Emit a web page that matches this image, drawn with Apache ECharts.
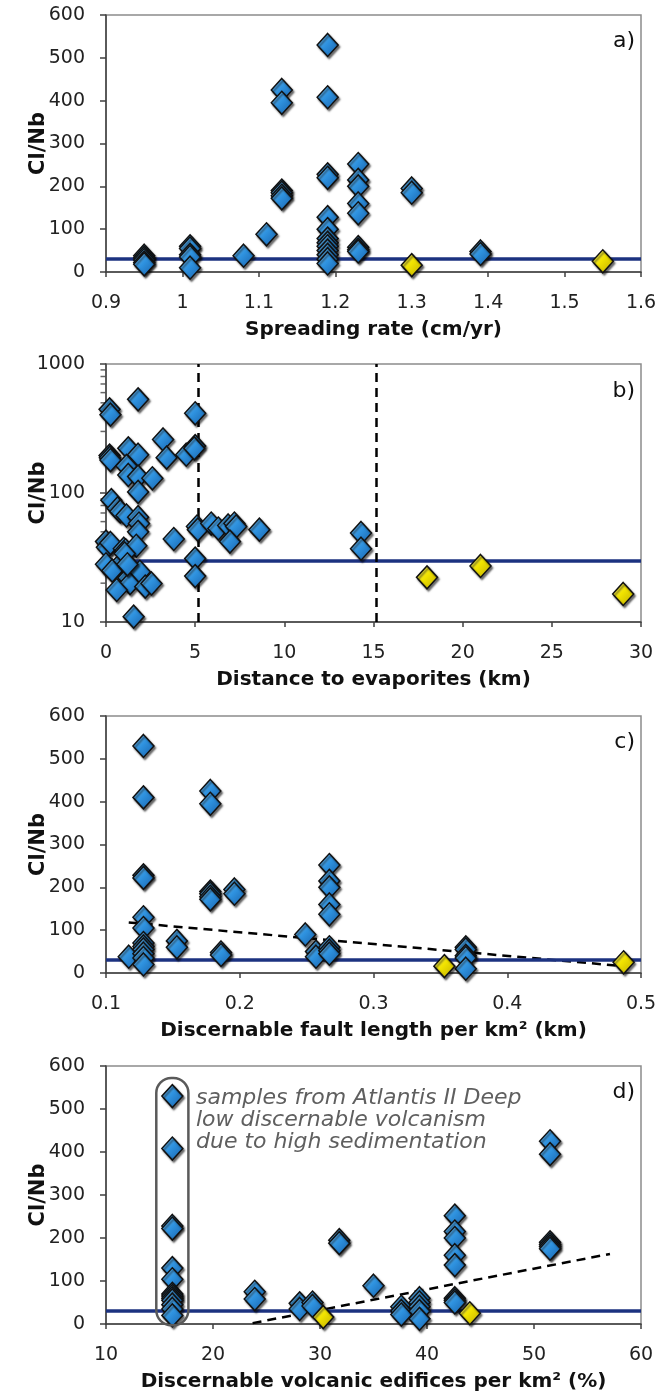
<!DOCTYPE html>
<html><head><meta charset="utf-8">
<script src="https://cdn.jsdelivr.net/npm/echarts@6/dist/echarts.min.js"></script>
<style>html,body{margin:0;padding:0;background:#fff}#c{width:671px;height:1398px}</style>
</head><body><div id="c"></div>
<script>
// ---------- DATA ----------
// Panel a: spreading rate (cm/yr) vs Cl/Nb
const aBlueX = [0.95,0.95,0.95,0.95,0.95, 1.01,1.01,1.01,1.01,1.01, 1.08, 1.11,
  1.13,1.13,1.13,1.13,1.13,1.13,
  1.19,1.19,1.19,1.19,1.19,1.19,1.19,1.19,1.19,1.19,1.19,1.19,1.19,
  1.23,1.23,1.23,1.23,1.23,1.23,1.23,1.23, 1.30,1.30, 1.39,1.39];
const aBlueY = [38,33,28,22,18, 60,55,40,35,10, 38, 88,
  425,395,190,185,178,172,
  530,408,228,220,128,100,78,68,60,50,40,30,20,
  252,215,200,160,137,58,52,48, 195,185, 48,42];
const aYellowX = [1.30, 1.55];
const aYellowY = [16, 25];

// Panel b: distance to evaporites (km) vs Cl/Nb (log)
const bBlueX = [1.8, 0.2,0.25, 5.0, 3.2, 1.25, 0.2,0.22,0.25, 1.8, 3.4, 4.5, 5.0,4.95,
  1.15, 1.25, 1.8, 2.6, 1.8, 0.3, 0.65,0.8, 1.15, 1.8,1.85, 1.8, 3.8, 5.1,5.15, 5.9, 6.3,
  6.85,7.2,7.3, 6.95, 8.6, 14.3,14.3, 0.0,0.05, 0.25, 1.0,1.1, 1.7, 5.0, 0.0, 0.35, 1.0,
  1.25,1.35, 1.9, 0.6, 2.2,2.55, 5.0, 1.55, 1.05, 1.2];
const bBlueY = [532, 445,405, 415, 260, 222, 195,188,180, 198, 188, 198, 231,222,
  162, 138, 134, 130, 102, 88, 76,72, 67, 65,58, 50, 44, 55,52, 58, 53,
  56,58,55, 42, 52, 49,37, 42,38, 41, 37,36, 39, 31, 28, 25, 30,
  22,20, 24.5, 17.7, 18.8,19.9, 22.7, 11, 34, 28];
const bYellowX = [18, 21, 29];
const bYellowY = [22.2, 27.2, 16.5];
const bEvaporiteLimits = [5.15, 15.15];
const bMinorTicks = [20,30,40,50,60,70,80,90,200,300,400,500,600,700,800,900];

// Panel c: discernable fault length per km2 vs Cl/Nb
const cBlueX = [0.117,
  0.128,0.128,0.128,0.128,0.128,0.128,0.128,0.128,0.128,0.128,0.128,0.128,
  0.153,0.153, 0.178,0.178,0.178,0.178,0.178,0.178, 0.186,0.186, 0.196,0.196,
  0.249, 0.257,0.257, 0.267,0.267,0.267,0.267,0.267,0.267,0.267,0.267,
  0.369,0.369,0.369,0.369,0.369];
const cBlueY = [38,
  530,410,228,222,130,105,70,62,55,45,35,20,
  75,60, 425,395,190,185,178,172, 48,42, 195,185,
  90, 50,38, 252,215,200,160,137,60,52,45,
  60,55,40,35,10];
const cYellowX = [0.353, 0.487];
const cYellowY = [16, 25];
const cTrendX = [0.117, 0.487];
const cTrendY = [118, 16];

// Panel d: discernable volcanic edifices per km2 (%) vs Cl/Nb
const dBlueX = [16.2,16.2,16.2,16.2,16.2,16.2,16.2,16.2,16.2,16.2,16.2,16.2,16.2,
  23.9,23.9, 28.1,28.1, 29.3,29.3, 31.8,31.8, 35.0, 37.6,37.6,37.6,
  39.3,39.3,39.3,39.3,39.3, 42.6,42.6,42.6,42.6,42.6,42.6,42.6,42.6,
  51.5,51.5,51.5,51.5,51.5,51.5];
const dBlueY = [530,408,228,222,130,104,70,65,60,55,45,35,20,
  75,58, 48,35, 50,42, 195,188, 89, 40,30,22,
  60,50,40,30,12, 252,215,200,160,137,60,55,50,
  425,395,190,185,180,175];
const dYellowX = [30.3, 44];
const dYellowY = [16, 25];
const dTrendX = [23.7, 57.1];
const dTrendY = [2, 163];
const dGroupBox = [14.7, -3, 17.7, 572]; // xmin, ymin, xmax, ymax
const dNote = ['samples from Atlantis II Deep', 'low discernable volcanism', 'due to high sedimentation'];

const REF_CLNB = 30;
const panelLabels = ['a)', 'b)', 'c)', 'd)'];
const xNames = ['Spreading rate (cm/yr)', 'Distance to evaporites (km)',
  'Discernable fault length per km\u00B2 (km)', 'Discernable volcanic edifices per km\u00B2 (%)'];
const yName = 'Cl/Nb';

// ---------- HELPERS ----------
const zip = (xs, ys) => xs.map((x, i) => [x, ys[i]]);
const FONT = 'DejaVu Sans';
const AXIS_COLOR = '#404040';

const blueFill = new echarts.graphic.LinearGradient(0, 0, 1, 1, [
  {offset: 0, color: '#8fd0fb'}, {offset: 0.45, color: '#2f93e0'}, {offset: 1, color: '#165ea8'}]);
const yellowFill = new echarts.graphic.LinearGradient(0, 0, 1, 1, [
  {offset: 0, color: '#fffaa0'}, {offset: 0.45, color: '#f2e400'}, {offset: 1, color: '#bba900'}]);

function scatter(i, data, fill) {
  return {
    type: 'scatter', xAxisIndex: i, yAxisIndex: i, data, z: 5,
    symbol: 'diamond', symbolSize: [21, 23], silent: true,
    itemStyle: {color: fill, borderColor: '#111', borderWidth: 1.5,
      shadowColor: 'rgba(0,0,0,0.55)', shadowBlur: 2, shadowOffsetX: 1.5, shadowOffsetY: 2, opacity: 1}
  };
}
function refLine(i) {
  return {
    type: 'line', xAxisIndex: i, yAxisIndex: i, data: [], z: 2, silent: true,
    markLine: {silent: true, symbol: ['none', 'none'], label: {show: false},
      lineStyle: {color: '#1c3280', width: 3.5, type: 'solid'},
      emphasis: {disabled: true}, animation: false,
      data: [{yAxis: REF_CLNB}]}
  };
}
function trend(i, xs, ys) {
  return {
    type: 'line', xAxisIndex: i, yAxisIndex: i, data: zip(xs, ys), z: 3, silent: true,
    showSymbol: false, symbol: 'none', animation: false,
    lineStyle: {color: '#000', width: 2.5, type: [9, 6]}
  };
}
function xAx(i, min, max, interval) {
  return {
    gridIndex: i, type: 'value', min, max, interval,
    name: xNames[i], nameLocation: 'middle', nameGap: 48,
    nameTextStyle: {fontFamily: FONT, fontWeight: 'bold', fontSize: 20, color: '#111'},
    axisLine: {show: true, onZero: false, lineStyle: {color: AXIS_COLOR, width: 1.5}},
    axisTick: {show: true, inside: false, length: 5, lineStyle: {color: AXIS_COLOR, width: 1.5}},
    axisLabel: {fontFamily: FONT, fontSize: 19, color: '#222', margin: 22},
    splitLine: {show: false}
  };
}
function yAx(i, extra) {
  return Object.assign({
    gridIndex: i, type: 'value', min: 0, max: 600, interval: 100,
    name: yName, nameLocation: 'middle', nameGap: 57, nameMoveOverlap: false,
    nameTextStyle: {fontFamily: FONT, fontWeight: 'bold', fontSize: 21, color: '#111'},
    axisLine: {show: true, onZero: false, lineStyle: {color: AXIS_COLOR, width: 1.5}},
    axisTick: {show: true, inside: false, length: 6, lineStyle: {color: AXIS_COLOR, width: 1.5}},
    axisLabel: {fontFamily: FONT, fontSize: 19, color: '#222', margin: 21, formatter: v => String(v)},
    splitLine: {show: false}
  }, extra || {});
}

const grids = [
  {left: 106, top: 15, width: 535, height: 257},
  {left: 106, top: 364, width: 535, height: 258},
  {left: 106, top: 716, width: 535, height: 257},
  {left: 106, top: 1066, width: 535, height: 258}
].map(g => Object.assign(g, {show: true, borderColor: '#8c8c8c', borderWidth: 1.5, backgroundColor: 'transparent'}));

const labelTops = [30, 380, 731, 1081];

const option = {
  animation: false,
  backgroundColor: '#fff',
  grid: grids,
  title: panelLabels.map((t, i) => ({
    text: t, right: 36, top: labelTops[i], padding: 0,
    textStyle: {fontFamily: FONT, fontSize: 22, fontWeight: 'normal', color: '#111'}
  })).concat([{
    text: dNote.join('\n'), left: 196, top: 1087, padding: 0,
    textStyle: {fontFamily: FONT, fontStyle: 'italic', fontWeight: 'normal', fontSize: 22, lineHeight: 22, color: '#5f5f5f'}
  }]),
  xAxis: [
    xAx(0, 0.9, 1.6, 0.1),
    xAx(1, 0, 30, 5),
    xAx(2, 0.1, 0.5, 0.1),
    xAx(3, 10, 60, 10)
  ],
  yAxis: [
    yAx(0),
    yAx(1, {type: 'log', logBase: 10, min: 10, max: 1000, interval: null}),
    yAx(2),
    yAx(3)
  ],
  series: [
    refLine(0), scatter(0, zip(aBlueX, aBlueY), blueFill), scatter(0, zip(aYellowX, aYellowY), yellowFill),
    refLine(1),
    {
      type: 'line', xAxisIndex: 1, yAxisIndex: 1, data: [], z: 2, silent: true,
      markLine: {silent: true, symbol: ['none', 'none'], label: {show: false}, animation: false,
        lineStyle: {color: '#000', width: 2.5, type: [9, 6]},
        data: bEvaporiteLimits.map(v => ({xAxis: v}))}
    },
    {
      type: 'scatter', xAxisIndex: 1, yAxisIndex: 1, silent: true, z: 1, clip: false,
      data: bMinorTicks.map(v => [0, v]), symbol: 'rect', symbolSize: [5, 1.5], symbolOffset: [-3, 0],
      itemStyle: {color: AXIS_COLOR}
    },
    scatter(1, zip(bBlueX, bBlueY), blueFill), scatter(1, zip(bYellowX, bYellowY), yellowFill),
    refLine(2), trend(2, cTrendX, cTrendY),
    scatter(2, zip(cBlueX, cBlueY), blueFill), scatter(2, zip(cYellowX, cYellowY), yellowFill),
    refLine(3), trend(3, dTrendX, dTrendY),
    {
      type: 'custom', xAxisIndex: 3, yAxisIndex: 3, silent: true, z: 6, clip: false,
      data: [dGroupBox],
      renderItem: function (params, api) {
        const p1 = api.coord([api.value(0), api.value(3)]);
        const p2 = api.coord([api.value(2), api.value(1)]);
        return {type: 'rect', shape: {x: p1[0], y: p1[1], width: p2[0] - p1[0], height: p2[1] - p1[1], r: 15},
          style: {fill: 'none', stroke: '#5a5a5a', lineWidth: 2.5}};
      }
    },
    scatter(3, zip(dBlueX, dBlueY), blueFill), scatter(3, zip(dYellowX, dYellowY), yellowFill)
  ]
};
const chart = echarts.init(document.getElementById('c'), null, {renderer: 'canvas'});
chart.setOption(option);
</script></body></html>
